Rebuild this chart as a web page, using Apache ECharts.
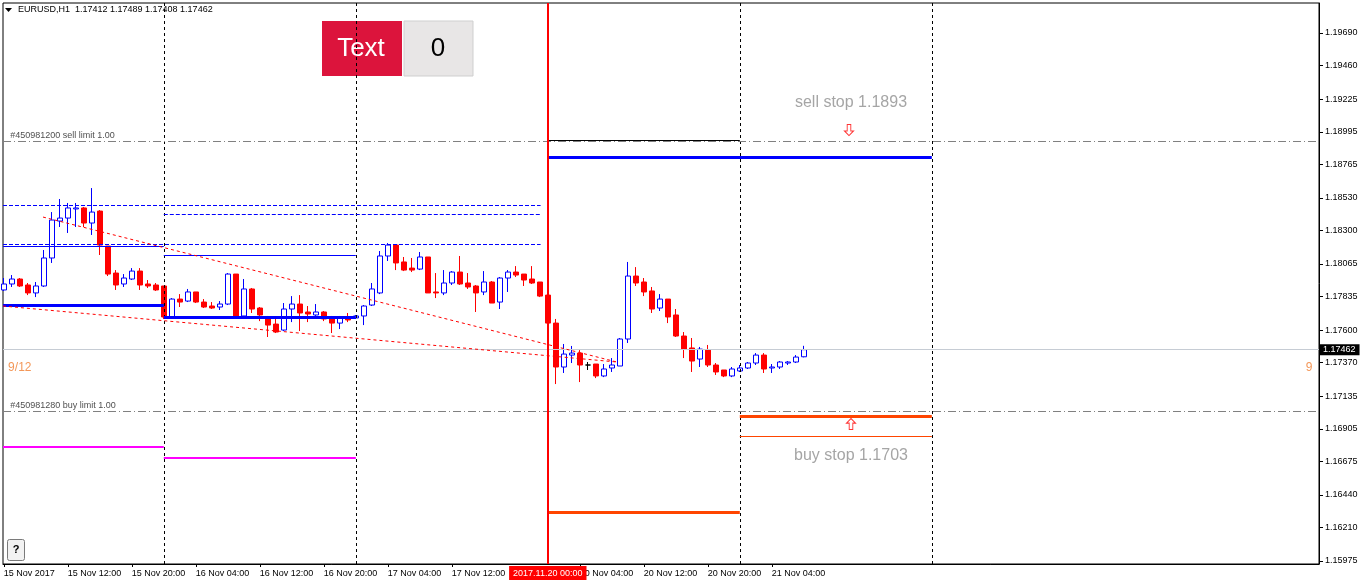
<!DOCTYPE html>
<html>
<head>
<meta charset="utf-8">
<script src="https://cdn.jsdelivr.net/npm/echarts@6/dist/echarts.min.js"></script>
<style>
html, body { margin: 0; padding: 0; background: #fff; }
#chart { width: 1362px; height: 585px; }
</style>
</head>
<body>
<div id="chart"></div>
<script>
// EURUSD H1 bars, [open, close, low, high], first bar = 15 Nov 2017 04:00
var candles = [
    [1.17882, 1.17924, 1.17875, 1.17966],
    [1.17924, 1.17959, 1.17903, 1.17987],
    [1.17959, 1.17910, 1.17903, 1.17966],
    [1.17917, 1.17861, 1.17846, 1.17931],
    [1.17861, 1.17910, 1.17832, 1.17938],
    [1.17910, 1.18107, 1.17903, 1.18163],
    [1.18107, 1.18374, 1.18072, 1.18430],
    [1.18367, 1.18388, 1.18325, 1.18522],
    [1.18388, 1.18459, 1.18283, 1.18494],
    [1.18452, 1.18459, 1.18325, 1.18494],
    [1.18459, 1.18353, 1.18325, 1.18466],
    [1.18353, 1.18430, 1.18269, 1.18599],
    [1.18437, 1.18198, 1.18128, 1.18444],
    [1.18191, 1.17994, 1.17980, 1.18191],
    [1.18001, 1.17917, 1.17882, 1.18022],
    [1.17924, 1.17966, 1.17903, 1.17994],
    [1.17959, 1.18015, 1.17952, 1.18036],
    [1.18015, 1.17917, 1.17882, 1.18036],
    [1.17924, 1.17910, 1.17896, 1.17952],
    [1.17917, 1.17882, 1.17875, 1.17931],
    [1.17910, 1.17692, 1.17678, 1.17910],
    [1.17692, 1.17818, 1.17685, 1.17825],
    [1.17818, 1.17797, 1.17762, 1.17853],
    [1.17804, 1.17868, 1.17797, 1.17889],
    [1.17868, 1.17797, 1.17790, 1.17868],
    [1.17797, 1.17762, 1.17755, 1.17818],
    [1.17769, 1.17755, 1.17748, 1.17797],
    [1.17762, 1.17783, 1.17741, 1.17804],
    [1.17783, 1.17994, 1.17776, 1.18001],
    [1.17994, 1.17699, 1.17692, 1.17994],
    [1.17699, 1.17889, 1.17692, 1.17959],
    [1.17889, 1.17748, 1.17720, 1.17896],
    [1.17755, 1.17706, 1.17663, 1.17762],
    [1.17692, 1.17635, 1.17551, 1.17699],
    [1.17642, 1.17586, 1.17579, 1.17678],
    [1.17600, 1.17748, 1.17593, 1.17790],
    [1.17748, 1.17783, 1.17656, 1.17839],
    [1.17783, 1.17720, 1.17593, 1.17846],
    [1.17727, 1.17713, 1.17656, 1.17769],
    [1.17706, 1.17727, 1.17699, 1.17783],
    [1.17727, 1.17678, 1.17663, 1.17734],
    [1.17692, 1.17649, 1.17579, 1.17699],
    [1.17649, 1.17692, 1.17607, 1.17699],
    [1.17692, 1.17671, 1.17656, 1.17720],
    [1.17685, 1.17699, 1.17678, 1.17706],
    [1.17699, 1.17769, 1.17635, 1.17776],
    [1.17776, 1.17889, 1.17769, 1.17931],
    [1.17861, 1.18121, 1.17853, 1.18156],
    [1.18121, 1.18198, 1.18086, 1.18212],
    [1.18198, 1.18072, 1.18022, 1.18198],
    [1.18079, 1.18022, 1.18015, 1.18114],
    [1.18036, 1.18022, 1.18008, 1.18107],
    [1.18029, 1.18114, 1.18022, 1.18149],
    [1.18114, 1.17861, 1.17861, 1.18114],
    [1.17868, 1.17861, 1.17825, 1.18001],
    [1.17861, 1.17931, 1.17846, 1.18022],
    [1.17931, 1.18008, 1.17917, 1.18015],
    [1.18008, 1.17924, 1.17917, 1.18121],
    [1.17931, 1.17903, 1.17889, 1.18001],
    [1.17910, 1.17861, 1.17727, 1.17917],
    [1.17868, 1.17938, 1.17846, 1.18015],
    [1.17938, 1.17790, 1.17790, 1.17945],
    [1.17797, 1.17966, 1.17748, 1.17973],
    [1.17966, 1.18008, 1.17868, 1.18022],
    [1.18008, 1.17987, 1.17973, 1.18050],
    [1.17994, 1.17952, 1.17910, 1.17994],
    [1.17959, 1.17931, 1.17924, 1.18050],
    [1.17938, 1.17839, 1.17832, 1.17938],
    [1.17846, 1.17649, 1.17565, 1.17846],
    [1.17649, 1.17340, 1.17220, 1.17678],
    [1.17340, 1.17431, 1.17298, 1.17502],
    [1.17424, 1.17438, 1.17368, 1.17488],
    [1.17438, 1.17354, 1.17234, 1.17459],
    [1.17354, 1.17354, 1.17319, 1.17375],
    [1.17361, 1.17277, 1.17262, 1.17361],
    [1.17277, 1.17326, 1.17269, 1.17361],
    [1.17333, 1.17354, 1.17305, 1.17403],
    [1.17347, 1.17537, 1.17347, 1.17544],
    [1.17537, 1.17980, 1.17509, 1.18079],
    [1.17980, 1.17931, 1.17910, 1.18043],
    [1.17938, 1.17868, 1.17839, 1.17966],
    [1.17875, 1.17748, 1.17720, 1.17903],
    [1.17755, 1.17818, 1.17734, 1.17853],
    [1.17818, 1.17692, 1.17649, 1.17818],
    [1.17706, 1.17558, 1.17551, 1.17748],
    [1.17558, 1.17466, 1.17403, 1.17586],
    [1.17474, 1.17382, 1.17305, 1.17544],
    [1.17396, 1.17466, 1.17340, 1.17481],
    [1.17459, 1.17354, 1.17340, 1.17495],
    [1.17354, 1.17305, 1.17284, 1.17368],
    [1.17319, 1.17277, 1.17269, 1.17319],
    [1.17277, 1.17326, 1.17269, 1.17340],
    [1.17312, 1.17333, 1.17305, 1.17354],
    [1.17333, 1.17368, 1.17326, 1.17375],
    [1.17368, 1.17424, 1.17354, 1.17438],
    [1.17424, 1.17326, 1.17298, 1.17438],
    [1.17333, 1.17340, 1.17298, 1.17361],
    [1.17340, 1.17375, 1.17326, 1.17382],
    [1.17368, 1.17375, 1.17354, 1.17382],
    [1.17375, 1.17410, 1.17368, 1.17424],
    [1.17412, 1.17462, 1.17408, 1.17489]
];

// time scale labels (bar index -> text)
var tickIdx = [0, 8, 16, 24, 32, 40, 48, 56, 72, 80, 88, 96];
var tickText = ['15 Nov 2017', '15 Nov 12:00', '15 Nov 20:00', '16 Nov 04:00', '16 Nov 12:00', '16 Nov 20:00',
    '17 Nov 04:00', '17 Nov 12:00', '20 Nov 04:00', '20 Nov 12:00', '20 Nov 20:00', '21 Nov 04:00'];
var priceTicks = [1.15975, 1.16210, 1.16440, 1.16675, 1.16905, 1.17135, 1.17370, 1.17600, 1.17835,
    1.18065, 1.18300, 1.18530, 1.18765, 1.18995, 1.19225, 1.19460, 1.19690];

var daySeparators = [20, 44, 92, 116];
var nowBar = 68;
var nowText = '2017.11.20 00:00';
var bid = 1.17462;
var orderLevels = [1.18930, 1.17030];
var orderTexts = ['#450981200 sell limit 1.00', '#450981280 buy limit 1.00'];

// horizontal objects: [fromBar, toBar, price, style]
var segments = [
    [68, 92, 1.18937, 'black'],
    [68, 116, 1.18817, 'blueThick'],
    [-0.1, 67.1, 1.18480, 'blueDash'],
    [20, 67.1, 1.18416, 'blueDash'],
    [-0.1, 67.1, 1.18205, 'blueDash'],
    [-0.1, 20, 1.18191, 'blue'],
    [20, 44, 1.18128, 'blue'],
    [-0.1, 20, 1.17776, 'blueThick'],
    [20, 44, 1.17692, 'blueThick'],
    [-0.1, 20, 1.16777, 'magenta'],
    [20, 44, 1.16700, 'magenta'],
    [92, 116, 1.16995, 'orangeThick'],
    [92, 116, 1.16854, 'orange'],
    [68, 92, 1.16320, 'orangeThick']
];
// triangle trend lines: [x1, p1, x2, p2]
var trendLines = [
    [4.9, 1.18395, 76.65, 1.17375],
    [-0.1, 1.17769, 76.65, 1.17375]
];
// text objects: [bar, price, text]
var notes = [
    [105.9, 1.19197, 'sell stop 1.1893'],
    [105.9, 1.16714, 'buy stop 1.1703']
];
var sideNotes = [
    [2.0, 1.17333, '9/12'],
    [163.15, 1.17333, '9']
];
var arrows = [
    [105.65, 1.19007, 0],
    [105.9, 1.16939, 180]
];

var X_MIN = -0.1, X_MAX = 164.4;
var Y_MIN = 1.15954, Y_MAX = 1.19901;
var FONT = '"Liberation Sans", Arial, sans-serif';

var styles = {
    black: { color: '#000000', width: 1, type: 'solid' },
    blueThick: { color: '#0000ff', width: 3, type: 'solid' },
    blueDash: { color: '#0000ff', width: 1, type: [4, 2] },
    blue: { color: '#0000ff', width: 1, type: 'solid' },
    magenta: { color: '#ff00ff', width: 2, type: 'solid' },
    orangeThick: { color: '#ff4500', width: 3, type: 'solid' },
    orange: { color: '#ff4500', width: 1, type: 'solid' }
};

var myChart = echarts.init(document.getElementById('chart'));

var markData = [];
daySeparators.forEach(function (d) {
    markData.push([{ coord: [d, Y_MIN], lineStyle: { color: '#000', width: 1, type: [3, 3] } }, { coord: [d, Y_MAX] }]);
});
orderLevels.forEach(function (p) {
    markData.push([{ coord: [X_MIN, p], lineStyle: { color: '#808080', width: 1, type: [8, 3, 1, 3] } }, { coord: [X_MAX, p] }]);
});
markData.push([{
    coord: [X_MIN, bid],
    lineStyle: { color: '#c6ccd4', width: 1, type: 'solid' },
    label: {
        show: true, position: 'end', distance: 1, formatter: bid.toFixed(5),
        backgroundColor: '#000', color: '#fff', fontSize: 9, fontFamily: FONT, padding: [1, 4, 1, 3]
    }
}, { coord: [X_MAX, bid] }]);
segments.forEach(function (s) {
    markData.push([{ coord: [s[0], s[2]], lineStyle: styles[s[3]] }, { coord: [s[1], s[2]] }]);
});
trendLines.forEach(function (t) {
    markData.push([{ coord: [t[0], t[1]], lineStyle: { color: '#ff0000', width: 1, type: [3, 3] } }, { coord: [t[2], t[3]] }]);
});
markData.push([{
    coord: [nowBar, Y_MIN],
    lineStyle: { color: '#ff0000', width: 2, type: 'solid' },
    label: {
        show: true, position: 'start', distance: 2, formatter: nowText,
        backgroundColor: '#ff0000', color: '#fff', fontSize: 9, fontFamily: FONT, padding: [3, 4, 2, 4]
    }
}, { coord: [nowBar, Y_MAX] }]);

var textData = [];
orderTexts.forEach(function (t, i) {
    textData.push({
        value: [0.8, orderLevels[i] + 0.00042],
        label: { show: true, position: 'inside', align: 'left', formatter: t, color: '#1a1a1a', fontSize: 9, fontFamily: FONT }
    });
});
notes.forEach(function (n) {
    textData.push({
        value: [n[0], n[1]],
        label: { show: true, position: 'inside', formatter: n[2], color: '#8f8f8f', fontSize: 16, fontFamily: FONT }
    });
});
sideNotes.forEach(function (n) {
    textData.push({
        value: [n[0], n[1]],
        label: { show: true, position: 'inside', formatter: n[2], color: '#f07d2e', fontSize: 12, fontFamily: FONT }
    });
});

option = {
    animation: false,
    backgroundColor: '#ffffff',
    grid: {
        left: 3, right: 43, top: 3, bottom: 21,
        show: true, borderColor: '#000', borderWidth: 1, backgroundColor: '#ffffff'
    },
    xAxis: {
        type: 'value',
        min: X_MIN, max: X_MAX,
        splitLine: { show: false },
        axisLine: { show: true, onZero: false, lineStyle: { color: '#000' } },
        axisTick: { show: true, customValues: tickIdx, length: 3, lineStyle: { color: '#000' } },
        axisLabel: {
            customValues: tickIdx, align: 'left', margin: 5,
            color: '#000', fontSize: 9, fontFamily: FONT,
            formatter: function (v) {
                var k = tickIdx.indexOf(Math.round(v));
                return k < 0 ? '' : tickText[k];
            }
        }
    },
    yAxis: {
        type: 'value',
        position: 'right',
        min: Y_MIN, max: Y_MAX,
        splitLine: { show: false },
        axisLine: { show: true, onZero: false, lineStyle: { color: '#000' } },
        axisTick: { show: true, customValues: priceTicks, length: 4, lineStyle: { color: '#000' } },
        axisLabel: {
            customValues: priceTicks, margin: 6,
            color: '#000', fontSize: 9, fontFamily: FONT,
            formatter: function (v) { return v.toFixed(5); }
        }
    },
    series: [
        {
            type: 'candlestick',
            data: candles.map(function (c, i) { return [i, c[0], c[1], c[2], c[3]]; }),
            encode: { x: 0, y: [1, 2, 3, 4] },
            barWidth: 5,
            itemStyle: {
                color: '#ffffff', borderColor: '#0000ff',
                color0: '#ff0000', borderColor0: '#ff0000',
                borderColorDoji: '#000000', borderWidth: 1
            },
            silent: true
        },
        {
            type: 'line',
            data: [],
            silent: true,
            markLine: {
                silent: true,
                symbol: 'none',
                animation: false,
                label: { show: false },
                data: markData
            }
        },
        {
            type: 'scatter',
            symbolSize: 0,
            silent: true,
            data: textData
        },
        {
            type: 'scatter',
            silent: true,
            symbol: 'path://M3,0 L7,0 L7,7 L10,7 L5,12 L0,7 L3,7 Z',
            symbolSize: [9, 11],
            data: arrows.map(function (a) { return { value: [a[0], a[1]], symbolRotate: a[2] }; }),
            itemStyle: { color: '#ffffff', borderColor: '#ff0000', borderWidth: 1 }
        }
    ],
    graphic: [
        { type: 'polygon', shape: { points: [[5, 8], [12, 8], [8.5, 12]] }, style: { fill: '#000' } },
        { type: 'text', left: 18, top: 5, style: { text: 'EURUSD,H1  1.17412 1.17489 1.17408 1.17462', fill: '#000', font: '9px ' + FONT } },
        { type: 'rect', shape: { x: 322, y: 21, width: 80, height: 55 }, style: { fill: '#dc143c' } },
        { type: 'text', x: 361, y: 49, style: { text: 'Text', fill: '#fff', font: '26px ' + FONT, align: 'center', verticalAlign: 'middle' } },
        { type: 'rect', shape: { x: 404, y: 21, width: 69, height: 55 }, style: { fill: '#e8e6e6', stroke: '#cfcfcf', lineWidth: 1 } },
        { type: 'text', x: 438, y: 49, style: { text: '0', fill: '#000', font: '26px ' + FONT, align: 'center', verticalAlign: 'middle' } },
        { type: 'rect', shape: { x: 7.5, y: 539.5, width: 17, height: 21, r: 2 }, style: { fill: '#f2f2f2', stroke: '#7a7a7a', lineWidth: 1 } },
        { type: 'text', x: 16, y: 550, style: { text: '?', fill: '#000', font: 'bold 11px ' + FONT, align: 'center', verticalAlign: 'middle' } }
    ]
};

myChart.setOption(option);
window.addEventListener("resize", function () {
    myChart.resize();
});
</script>
</body>
</html>
